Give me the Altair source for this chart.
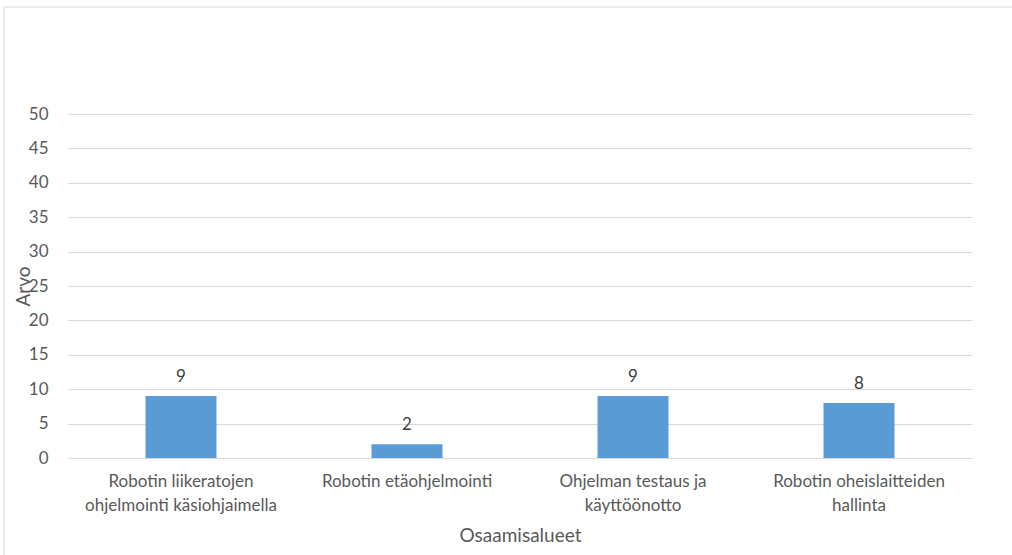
import altair as alt
import pandas as pd

# Skill areas and their scores
categories = [
    "Robotin liikeratojen ohjelmointi käsiohjaimella",
    "Robotin etäohjelmointi",
    "Ohjelman testaus ja käyttöönotto",
    "Robotin oheislaitteiden hallinta",
]
label_lines = [
    ["Robotin liikeratojen", "ohjelmointi käsiohjaimella"],
    ["Robotin etäohjelmointi"],
    ["Ohjelman testaus ja", "käyttöönotto"],
    ["Robotin oheislaitteiden", "hallinta"],
]
values = [9, 2, 9, 8]
y_ticks = [0, 5, 10, 15, 20, 25, 30, 35, 40, 45, 50]

df = pd.DataFrame({"alue": categories, "arvo": values})

# multi-line x labels
expr = "''"
for cat, lines in reversed(list(zip(categories, label_lines))):
    arr = "[" + ", ".join("'" + l + "'" for l in lines) + "]"
    expr = f"datum.label == '{cat}' ? {arr} : ({expr})"

FONT = "Lato"
TXT = "#595959"
W, H = 904, 344
PL, PT = 68, 114
LABEL_SIZE = 17
TITLE_SIZE = 19

x = alt.X(
    "alue:N",
    sort=categories,
    scale=alt.Scale(paddingInner=0, paddingOuter=0),
    axis=alt.Axis(
        title="Osaamisalueet",
        labelAngle=0,
        labelExpr=expr,
        labelFont=FONT,
        labelFontSize=LABEL_SIZE,
        labelColor=TXT,
        labelPadding=15,
        labelLineHeight=24,
        labelLimit=400,
        domain=False,
        ticks=False,
        titleFont=FONT,
        titleFontSize=TITLE_SIZE,
        titleFontWeight="normal",
        titleColor=TXT,
        titleY=68,
    ),
)
y = alt.Y(
    "arvo:Q",
    scale=alt.Scale(domain=[0, 50], nice=False),
    axis=alt.Axis(
        title="Arvo",
        values=y_ticks,
        labelFont=FONT,
        labelFontSize=LABEL_SIZE,
        labelColor=TXT,
        labelPadding=20,
        domain=False,
        ticks=False,
        gridColor="#D9D9D9",
        titleFont=FONT,
        titleFontSize=TITLE_SIZE,
        titleFontWeight="normal",
        titleColor=TXT,
        titleX=-35,
        titleY=H / 2,
        titleAlign="center",
        titleAngle=270,
    ),
)

base = alt.Chart(df)
bars = base.mark_bar(size=71, color="#5B9BD5").encode(x=x, y=y)
labels = base.mark_text(
    dy=-10, font=FONT, fontSize=LABEL_SIZE, color="#404040", baseline="bottom"
).encode(x=x, y=y, text="arvo:Q")

frame_top = alt.Chart(pd.DataFrame({"k": [0]})).mark_rule(
    color="#D9D9D9", strokeWidth=1
).encode(x=alt.value(4 - PL), x2=alt.value(1012 - PL), y=alt.value(7 - PT))
frame_left = alt.Chart(pd.DataFrame({"k": [0]})).mark_rule(
    color="#D9D9D9", strokeWidth=1
).encode(x=alt.value(4 - PL), y=alt.value(7 - PT), y2=alt.value(555 - PT))

chart = (
    alt.layer(frame_top, frame_left, bars, labels)
    .properties(
        width=W,
        height=H,
        autosize=alt.AutoSizeParams(type="none"),
        padding={"left": PL, "top": PT, "right": 1012 - PL - W, "bottom": 555 - PT - H},
        background="white",
    )
    .configure_view(stroke=None)
)

chart.save("out.html", embed_options={"renderer": "svg", "actions": False})
